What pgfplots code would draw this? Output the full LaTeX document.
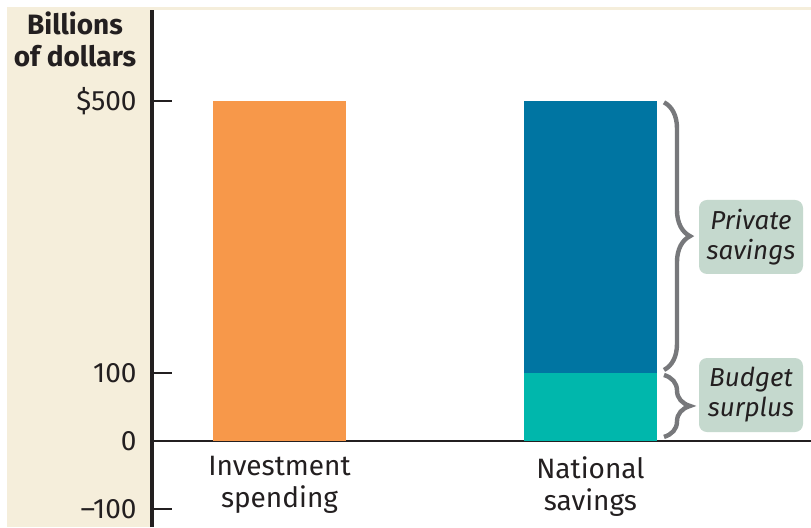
\documentclass[border=0pt]{standalone}
\usepackage{pgfplots}
\pgfplotsset{compat=1.18}
\usepackage{fontspec}
\setmainfont{Fira Sans}
\usetikzlibrary{decorations.pathreplacing}
\definecolor{beige}{HTML}{F5EEDB}
\definecolor{invorange}{HTML}{F7984A}
\definecolor{privblue}{HTML}{0075A2}
\definecolor{budteal}{HTML}{00B7AC}
\definecolor{bracegrey}{HTML}{77787B}
\definecolor{boxgreen}{HTML}{C5D9CE}
\definecolor{txt}{HTML}{231F20}
\begin{document}
\fontsize{14}{16}\selectfont
\begin{tikzpicture}[x=0.5pt,y=0.5pt]
\useasboundingbox (0,0) rectangle (811,527);
\fill[beige] (7,0) rectangle (811,520);
\fill[white] (152,0) rectangle (811,517);
\node[anchor=base,font=\bfseries,text=txt,inner sep=0pt] at (75,493) {Billions};
\node[anchor=base,font=\bfseries,text=txt,inner sep=0pt] at (75,461) {of dollars};
\begin{axis}[
  at={(152,0)}, anchor=south west,
  scale only axis, width=329.5pt, height=258.5pt,
  xmin=0, xmax=659, ymin=-126.5, ymax=633.8,
  axis x line*=middle, axis y line*=left,
  x axis line style={line width=0.8pt, color=txt},
  y axis line style={line width=1.6pt, color=txt},
  ybar stacked, bar width=133,
  xtick={127.5,438.5},
  xticklabels={Investment\\spending, National\\savings},
  xtick style={draw=none},
  xticklabel style={align=center, anchor=north, inner sep=0pt, yshift=-7.5pt, text=txt},
  ytick={-100,0,100,500},
  yticklabels={–100,0,100,\$500},
  yticklabel style={anchor=east, inner sep=0pt, xshift=-7.5pt, text=txt},
  ytick style={line width=1pt, color=txt},
  tick align=inside, major tick length=10pt,
  clip=false,
]
\addplot[fill=invorange, draw=none] coordinates {(127.5,500) (438.5,0)};
\addplot[fill=budteal, draw=none] coordinates {(127.5,0) (438.5,100)};
\addplot[fill=privblue, draw=none] coordinates {(127.5,0) (438.5,400)};
\draw[bracegrey, line width=2.2pt, decorate, decoration={brace, amplitude=13pt}]
  (axis cs:512,498) -- (axis cs:512,104.5);
\draw[bracegrey, line width=2.2pt, decorate, decoration={brace, amplitude=13pt}]
  (axis cs:512,97) -- (axis cs:512,6);
\node[fill=boxgreen, rounded corners=4pt, minimum width=52pt, minimum height=37pt,
  align=center, inner sep=0pt, text=txt, font=\itshape\fontsize{13}{15}\selectfont]
  at (axis cs:599,300) {Private\\savings};
\node[fill=boxgreen, rounded corners=4pt, minimum width=52pt, minimum height=37pt,
  align=center, inner sep=0pt, text=txt, font=\itshape\fontsize{13}{15}\selectfont]
  at (axis cs:599,67.6) {Budget\\surplus};
\end{axis}
\end{tikzpicture}
\end{document}
